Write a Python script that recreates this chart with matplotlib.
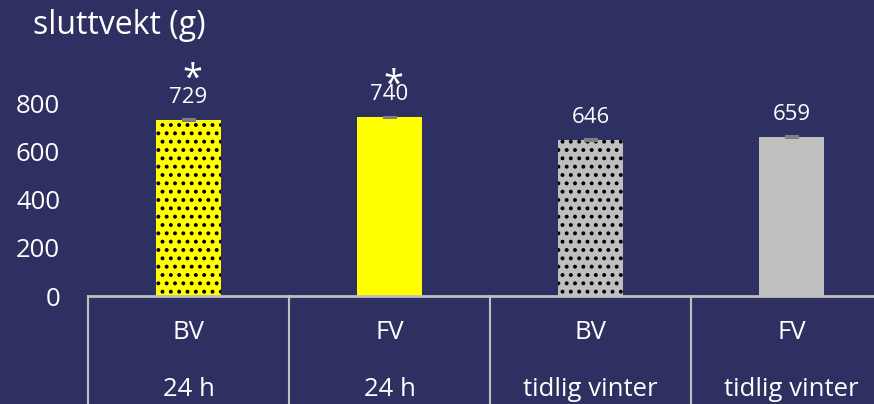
import matplotlib
matplotlib.use("Agg")
from matplotlib import pyplot as plt

# data
groups = ["BV", "FV", "BV", "FV"]
periods = ["24 h", "24 h", "tidlig vinter", "tidlig vinter"]
values = [729, 740, 646, 659]
errors = [4, 4, 4, 4]
colors = ["#FFFF00", "#FFFF00", "#BFBFBF", "#BFBFBF"]
hatches = ["..", "", "..", ""]
star_idx = [0, 1]
star_y = [895, 872]
ticks = [0, 200, 400, 600, 800]

bg = "#2E3062"
line_col = "#BFBFBF"
plt.rcParams["font.family"] = ["Open Sans", "DejaVu Sans"]
plt.rcParams["hatch.linewidth"] = 1.6

fig = plt.figure(figsize=(8.74, 4.04), dpi=100, facecolor=bg)
ax = fig.add_axes([88 / 874, 108 / 404, 804 / 874, 217.1 / 404])
ax.set_facecolor(bg)

x = list(range(len(values)))
for i in x:
    ax.bar(i, values[i], width=0.32, color=colors[i], hatch=hatches[i],
           edgecolor="black", linewidth=0)
ax.errorbar(x, values, yerr=errors, fmt="none", ecolor="#7F7F7F",
            elinewidth=1.5, capsize=5, capthick=1.5)

for i in x:
    ax.annotate(str(values[i]), (i, values[i]), xytext=(0, 9),
                textcoords="offset points", ha="center", va="bottom",
                color="white", fontsize=16)
for k, i in enumerate(star_idx):
    ax.text(i + 0.02, star_y[k], "*", ha="center", va="center",
            color="white", fontsize=26)

ax.set_xlim(-0.5, 3.5)
ax.set_ylim(0, 900)
ax.set_yticks(ticks)
ax.set_yticklabels([str(t) for t in ticks], color="white", fontsize=18.5)
ax.tick_params(axis="y", length=0, pad=20)
ax.set_xticks([])
for s in ax.spines.values():
    s.set_visible(False)

# category table under the plot
trans = ax.get_xaxis_transform()
ax.plot([-0.5, 3.5], [0, 0], transform=trans, color=line_col, lw=2, clip_on=False)
for b in [-0.5, 0.5, 1.5, 2.5]:
    ax.plot([b, b], [0, -0.6], transform=trans, color=line_col, lw=1.5, clip_on=False)
for i in x:
    ax.text(i, -0.166, groups[i], transform=trans, ha="center", va="center",
            color="white", fontsize=18.5)
    ax.text(i, -0.43, periods[i], transform=trans, ha="center", va="center",
            color="white", fontsize=18.5)

fig.text(33 / 874, 1 - 34 / 404, "sluttvekt (g)", ha="left", va="baseline",
         color="white", fontsize=23)

fig.savefig("out.png", dpi=100, facecolor=bg)
